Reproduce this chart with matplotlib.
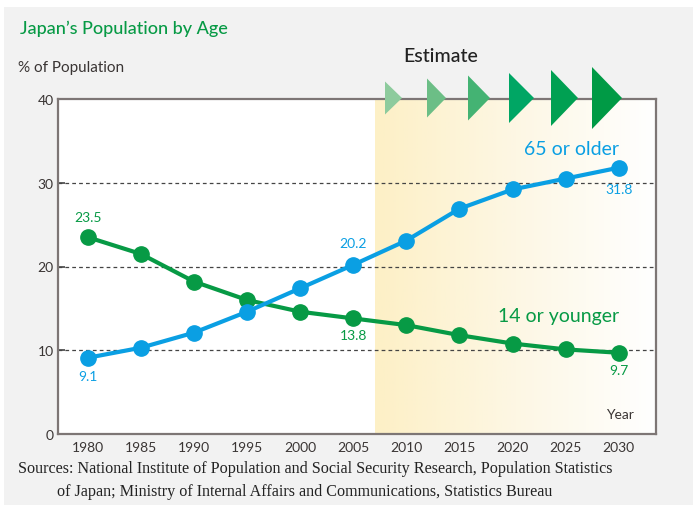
import matplotlib
matplotlib.use('Agg')
import matplotlib.pyplot as plt
from matplotlib.colors import LinearSegmentedColormap
from matplotlib.patches import Polygon, Rectangle
import numpy as np

plt.rcParams['font.family'] = ['Lato', 'DejaVu Sans']

# data
years = [1980, 1985, 1990, 1995, 2000, 2005, 2010, 2015, 2020, 2025, 2030]
old65 = [9.1, 10.3, 12.1, 14.6, 17.4, 20.2, 23.1, 26.9, 29.2, 30.5, 31.8]
young14 = [23.5, 21.5, 18.2, 16.0, 14.6, 13.8, 13.0, 11.8, 10.8, 10.1, 9.7]
yticks = [0, 10, 20, 30, 40]
estimate_start = 2007

blue = '#0a9fe3'
green = '#079a45'
dark = '#3a3534'

W, H = 693, 506
fig = plt.figure(figsize=(W / 100, H / 100), dpi=100)
fig.patch.set_facecolor('white')
fig.patches.append(Rectangle((4 / W, 0), 1, 1 - 8 / H, transform=fig.transFigure,
                             facecolor='#f2f2f2', edgecolor='none', zorder=-10))

ax = fig.add_axes([58 / W, 1 - 435 / H, (656 - 58) / W, (435 - 100) / H])
ax.set_facecolor('white')

# estimate shading
cmap = LinearSegmentedColormap.from_list('est', ['#fdf0c6', '#fdf7e4', '#ffffff'])
grad = np.linspace(0, 1, 256).reshape(1, -1)
ax.imshow(grad, extent=[estimate_start, 2033.5, 0, 40], aspect='auto', cmap=cmap, zorder=0)
ax.set_xlim(1977.2, 2033.5)
ax.set_ylim(0, 40)

for y in yticks[1:-1]:
    ax.axhline(y, color='#444', lw=0.9, ls=(0, (3, 2.5)), zorder=1)

ax.plot(years, young14, color=green, lw=3, marker='o', ms=11, zorder=3, solid_capstyle='round')
ax.plot(years, old65, color=blue, lw=3, marker='o', ms=11, zorder=4, solid_capstyle='round')

for s in ax.spines.values():
    s.set_color('#7d7675')
    s.set_linewidth(1.6)

ax.set_xticks(years)
ax.set_xticklabels([str(y) for y in years])
ax.set_yticks(yticks)
ax.tick_params(axis='x', length=0, pad=5, labelsize=10, labelcolor=dark)
ax.tick_params(axis='y', direction='in', length=5, width=1.2, color='#444', pad=3,
               labelsize=10, labelcolor=dark)

lab = dict(fontsize=10, ha='center', va='center', textcoords='offset points')
ax.annotate('23.5', (1980, 23.5), xytext=(0, 14.5), color=green, **lab)
ax.annotate('9.1', (1980, 9.1), xytext=(0, -13), color=blue, **lab)
ax.annotate('20.2', (2005, 20.2), xytext=(0, 16), color=blue, **lab)
ax.annotate('13.8', (2005, 13.8), xytext=(0, -12), color=green, **lab)
ax.annotate('31.8', (2030, 31.8), xytext=(0, -15.5), color=blue, **lab)
ax.annotate('9.7', (2030, 9.7), xytext=(0, -12.5), color=green, **lab)

ax.text(2030, 34.1, '65 or older', color=blue, fontsize=14, ha='right', va='center')
ax.text(2030, 14.1, '14 or younger', color=green, fontsize=14, ha='right', va='center')
ax.text(2031.4, 2.4, 'Year', color=dark, fontsize=10, ha='right', va='center')

# estimate arrows (figure pixels, from top)
arrows = [(385, 17, 33, '#8dcb9d'), (427, 19, 39, '#6cbe86'), (468, 22, 45, '#44b373'),
          (509, 25, 50, '#00a664'), (551, 27, 56, '#00a052'), (592, 30, 62, '#009a45')]
for x0, w, h, c in arrows:
    yc = 99
    pts = [(x0 / W, 1 - (yc - h / 2) / H), (x0 / W, 1 - (yc + h / 2) / H), ((x0 + w) / W, 1 - yc / H)]
    fig.patches.append(Polygon(pts, closed=True, transform=fig.transFigure,
                               facecolor=c, edgecolor='none', zorder=5))

fig.text(20 / W, 1 - 29 / H, 'Japan\u2019s Population by Age', color=green, fontsize=13,
         fontweight='medium', ha='left', va='center')
fig.text(18 / W, 1 - 68 / H, '% of Population', color=dark, fontsize=11, ha='left', va='center')
fig.text(441 / W, 1 - 57 / H, 'Estimate', color='#222', fontsize=14, fontweight='medium',
         ha='center', va='center')

serif = dict(family=['Liberation Serif', 'DejaVu Serif'], fontsize=11.6, color='#222', va='center')
fig.text(18 / W, 1 - 469 / H, 'Sources: National Institute of Population and Social Security Research, Population Statistics', ha='left', **serif)
fig.text(57 / W, 1 - 492 / H, 'of Japan; Ministry of Internal Affairs and Communications, Statistics Bureau', ha='left', **serif)

fig.savefig('out.png', dpi=100, facecolor=fig.get_facecolor())
